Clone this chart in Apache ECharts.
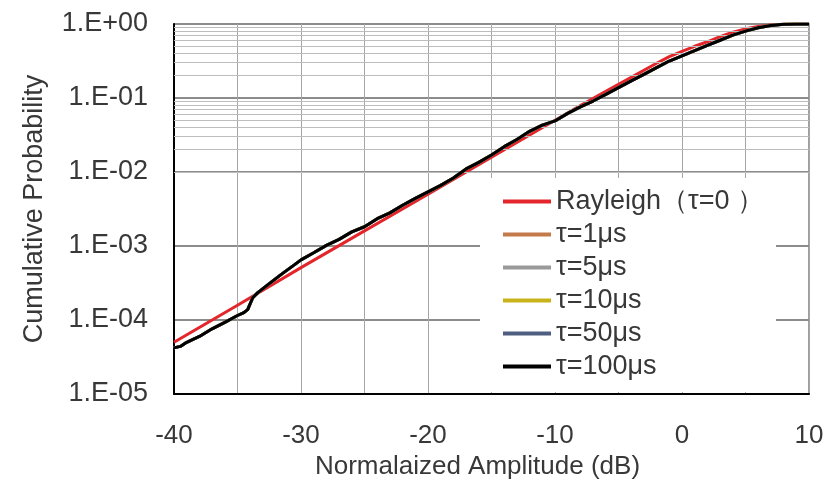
<!DOCTYPE html>
<html>
<head>
<meta charset="utf-8">
<script src="https://cdn.jsdelivr.net/npm/echarts@6/dist/echarts.min.js"></script>
<style>
  html, body { margin: 0; padding: 0; background: #fff; }
  #main { width: 829px; height: 488px; }
</style>
</head>
<body>
<div id="main"></div>
<script>
var chart = echarts.init(document.getElementById('main'));

// y tick labels, bottom to top
var yLabels = ['1.E-05', '1.E-04', '1.E-03', '1.E-02', '1.E-01', '1.E+00'];
// minor log grid lines (2..9 x each decade)
var minorGrid = [
  2e-5, 3e-5, 4e-5, 5e-5, 6e-5, 7e-5, 8e-5, 9e-5,
  2e-4, 3e-4, 4e-4, 5e-4, 6e-4, 7e-4, 8e-4, 9e-4,
  2e-3, 3e-3, 4e-3, 5e-3, 6e-3, 7e-3, 8e-3, 9e-3,
  2e-2, 3e-2, 4e-2, 5e-2, 6e-2, 7e-2, 8e-2, 9e-2,
  0.2, 0.3, 0.4, 0.5, 0.6, 0.7, 0.8, 0.9
];

// Rayleigh (tau = 0)
var rayX = [-40, -35, -30, -25, -20, -15, -10, -8, -6, -4, -2, -1, 0, 1, 2, 3, 4, 5, 6, 7, 8, 9, 10];
var rayY = [5.0e-5, 1.58e-4, 5.1e-4, 1.6e-3, 5.0e-3, 1.58e-2, 5.0e-2, 7.9e-2, 0.123, 0.19, 0.295, 0.363,
            0.427, 0.50, 0.575, 0.676, 0.776, 0.86, 0.923, 0.966, 0.989, 0.999, 1.0];

// measured tau curves (overlapping, black on top)
var tauX = [-40, -39.5, -39, -38, -37, -36, -35, -34.5, -34.2, -33.8, -33.4, -32.5, -31.5, -30.5, -30,
            -29, -28, -27, -26, -25, -24, -23, -22, -21, -20, -19, -18, -17, -16, -15, -14, -13, -12,
            -11, -10, -9, -8, -7, -6, -5, -4, -3, -2, -1, 0, 1, 2, 3, 4, 5, 6, 7, 8, 9, 10];
var tauY = [4.2e-5, 4.4e-5, 5.0e-5, 6.0e-5, 7.6e-5, 9.3e-5, 1.15e-4, 1.26e-4, 1.38e-4, 2.0e-4, 2.34e-4,
            3.1e-4, 4.2e-4, 5.6e-4, 6.5e-4, 8.1e-4, 1.02e-3, 1.23e-3, 1.55e-3, 1.82e-3, 2.34e-3, 2.8e-3,
            3.55e-3, 4.4e-3, 5.4e-3, 6.6e-3, 8.3e-3, 1.1e-2, 1.35e-2, 1.7e-2, 2.2e-2, 2.75e-2, 3.55e-2,
            4.3e-2, 4.9e-2, 6.2e-2, 7.6e-2, 9.1e-2, 0.112, 0.138, 0.170, 0.209, 0.257, 0.316, 0.372,
            0.437, 0.513, 0.603, 0.708, 0.80, 0.89, 0.955, 0.989, 1.0, 1.0];

var names = ['Rayleigh（τ=0 ）', 'τ=1μs', 'τ=5μs', 'τ=10μs', 'τ=50μs', 'τ=100μs'];
var colors = ['#e3262b', '#c47a4a', '#9a9a9a', '#c9b31a', '#4f5f82', '#000000'];

function pairs(xs, ys) {
  return xs.map(function(x, i) { return [x, ys[i]]; });
}

var font = 'Liberation Sans, Arial, sans-serif';

var series = [{
  name: 'grid',
  type: 'line',
  data: [],
  silent: true,
  z: 1,
  markLine: {
    silent: true,
    symbol: 'none',
    animation: false,
    label: { show: false },
    lineStyle: { color: '#bdbdbd', width: 1, type: 'solid' },
    data: minorGrid.map(function(v) { return { yAxis: v }; })
  }
}];
names.forEach(function(n, i) {
  series.push({
    name: n,
    type: 'line',
    data: i === 0 ? pairs(rayX, rayY) : pairs(tauX, tauY),
    symbol: 'none',
    z: 2 + i,
    lineStyle: { color: colors[i], width: 3 },
    itemStyle: { color: colors[i] }
  });
});

chart.setOption({
  animation: false,
  textStyle: { fontFamily: font },
  grid: {
    left: 174, right: 20, top: 24, bottom: 94,
    show: true, borderColor: '#808080', borderWidth: 1.5
  },
  legend: {
    data: names,
    orient: 'vertical',
    left: 480, top: 178,
    padding: [10, 12, 12, 23],
    backgroundColor: '#fff',
    icon: 'rect',
    itemWidth: 48, itemHeight: 4,
    itemGap: 6,
    textStyle: { fontSize: 27, lineHeight: 27, color: '#383838', fontFamily: font }
  },
  xAxis: {
    type: 'value',
    min: -40, max: 10, interval: 10,
    name: 'Normalaized Amplitude (dB)',
    nameLocation: 'middle',
    nameGap: 59,
    nameTextStyle: { fontSize: 26, color: '#383838', fontFamily: font, padding: [0, 28, 0, 0] },
    axisLine: { onZero: false, lineStyle: { color: '#000', width: 2 } },
    axisTick: { show: false },
    axisLabel: { fontSize: 26, color: '#383838', margin: 29, fontFamily: font },
    splitLine: { show: true, lineStyle: { color: '#a6a6a6', width: 1 } },
    minorTick: { show: false, splitNumber: 2 },
    minorSplitLine: { show: true, lineStyle: { color: '#a6a6a6', width: 1 } }
  },
  yAxis: {
    type: 'log',
    logBase: 10,
    min: 1e-5, max: 1,
    name: 'Cumulative Probability',
    nameLocation: 'middle',
    nameRotate: 90,
    nameGap: 126,
    nameTextStyle: { fontSize: 27, color: '#383838', fontFamily: font },
    axisLine: { show: true, onZero: false, lineStyle: { color: '#000', width: 2 } },
    axisTick: { show: false },
    axisLabel: {
      fontSize: 27, color: '#383838', margin: 26, fontFamily: font,
      formatter: function(v, i) { return yLabels[i]; }
    },
    splitLine: { show: true, lineStyle: { color: '#8c8c8c', width: 2 } }
  },
  series: series
});
</script>
</body>
</html>
